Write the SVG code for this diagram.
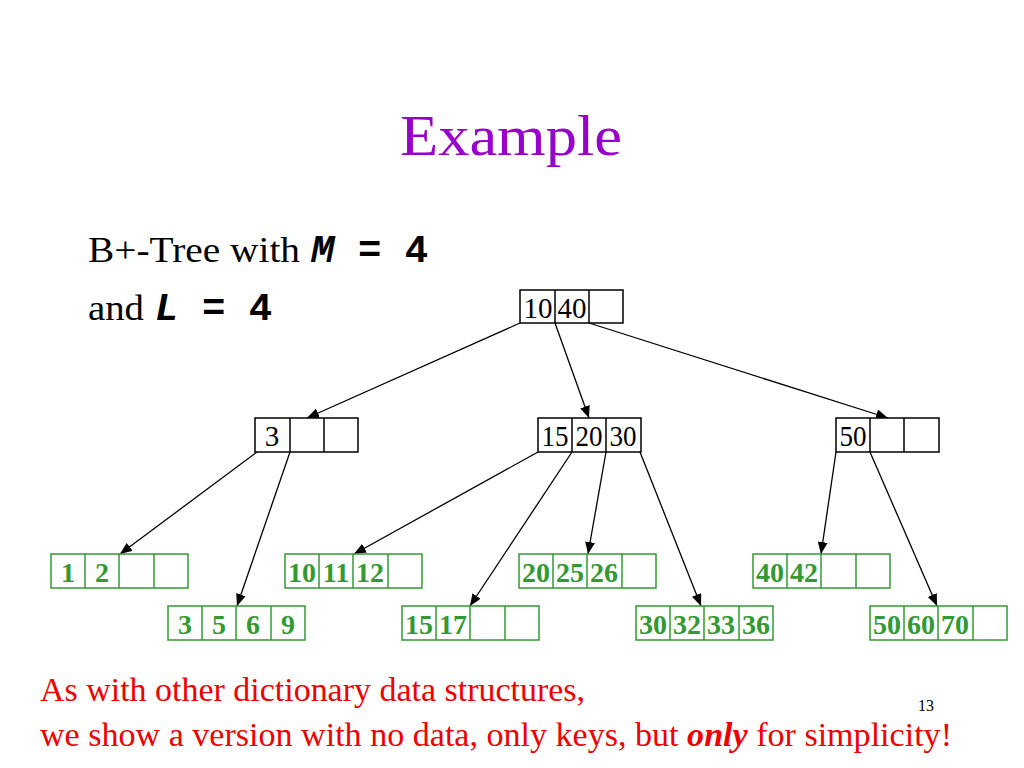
<svg xmlns="http://www.w3.org/2000/svg" width="1024" height="768" viewBox="0 0 1024 768">
<style>
.bg{fill:#fff}
.in rect{fill:#fff;stroke:#000;stroke-width:1.5}
.in line{stroke:#000;stroke-width:1.5}
.in text{font-family:"Liberation Serif",serif;font-size:29px;fill:#000;text-anchor:middle}
.lf rect{fill:#fff;stroke:#339933;stroke-width:1.5}
.lf line{stroke:#339933;stroke-width:1.5}
.lf text{font-family:"Liberation Serif",serif;font-size:28px;font-weight:bold;fill:#339933;text-anchor:middle}
.edge line{stroke:#000;stroke-width:1.3;marker-end:url(#ah)}
.ser{font-family:"Liberation Serif",serif;font-size:36px;fill:#000}
.mono{font-family:"Liberation Mono",monospace;font-weight:bold;font-size:39px;fill:#000}
.red{font-family:"Liberation Serif",serif;font-size:33px;fill:#ee0000}
</style>
<defs>
<marker id="ah" viewBox="0 0 12 10" refX="12" refY="5" markerWidth="12" markerHeight="10" markerUnits="userSpaceOnUse" orient="auto">
<path d="M0,0 L12,5 L0,10 z" fill="#000"/>
</marker>
</defs>
<rect class="bg" width="1024" height="768"/>
<text x="400" y="155" font-family="Liberation Serif,serif" font-size="58" fill="#9900CC" textLength="222" lengthAdjust="spacingAndGlyphs">Example</text>
<text class="ser" x="88" y="262" textLength="212" lengthAdjust="spacingAndGlyphs">B+-Tree with</text>
<text class="mono" x="311" y="262" font-style="italic">M</text>
<text class="mono" x="358" y="262" xml:space="preserve">= 4</text>
<text class="ser" x="88" y="320" textLength="56" lengthAdjust="spacingAndGlyphs">and</text>
<text class="mono" x="155" y="320" font-style="italic">L</text>
<text class="mono" x="202" y="320" xml:space="preserve">= 4</text>

<g id="edges" class="edge">
<line x1="520" y1="323" x2="307" y2="418"/>
<line x1="555" y1="323" x2="589" y2="418"/>
<line x1="589" y1="323" x2="888" y2="418"/>
<line x1="257" y1="452" x2="120" y2="554"/>
<line x1="290" y1="452" x2="237" y2="606"/>
<line x1="538" y1="452" x2="354" y2="554"/>
<line x1="572" y1="452" x2="470" y2="606"/>
<line x1="606" y1="452" x2="588" y2="554"/>
<line x1="640" y1="452" x2="701" y2="606"/>
<line x1="836" y1="452" x2="821" y2="554"/>
<line x1="870" y1="452" x2="937" y2="606"/>
</g>

<g id="root" class="in">
<rect x="520" y="290" width="103" height="33"/>
<line x1="555" y1="290" x2="555" y2="323"/><line x1="589" y1="290" x2="589" y2="323"/>
<text x="538" y="318" font-size="27" textLength="29" lengthAdjust="spacingAndGlyphs">10</text><text x="572" y="318" font-size="27" textLength="29" lengthAdjust="spacingAndGlyphs">40</text>
</g>
<g id="n3" class="in">
<rect x="255" y="418" width="103" height="34"/>
<line x1="290" y1="418" x2="290" y2="452"/><line x1="324" y1="418" x2="324" y2="452"/>
<text x="272" y="446">3</text>
</g>
<g id="n152030" class="in">
<rect x="538" y="418" width="103" height="34"/>
<line x1="572" y1="418" x2="572" y2="452"/><line x1="606" y1="418" x2="606" y2="452"/>
<text x="555" y="446" textLength="27" lengthAdjust="spacingAndGlyphs">15</text><text x="589" y="446" textLength="27" lengthAdjust="spacingAndGlyphs">20</text><text x="623" y="446" textLength="27" lengthAdjust="spacingAndGlyphs">30</text>
</g>
<g id="n50" class="in">
<rect x="836" y="418" width="103" height="34"/>
<line x1="870" y1="418" x2="870" y2="452"/><line x1="904" y1="418" x2="904" y2="452"/>
<text x="853" y="446" textLength="27" lengthAdjust="spacingAndGlyphs">50</text>
</g>

<g id="leaf1" class="lf" transform="translate(51,554)">
<rect width="137" height="34"/><line x1="34" y1="0" x2="34" y2="34"/><line x1="68" y1="0" x2="68" y2="34"/><line x1="103" y1="0" x2="103" y2="34"/>
<text x="17" y="28">1</text><text x="51" y="28">2</text>
</g>
<g id="leaf2" class="lf" transform="translate(168,606)">
<rect width="137" height="34"/><line x1="34" y1="0" x2="34" y2="34"/><line x1="68" y1="0" x2="68" y2="34"/><line x1="103" y1="0" x2="103" y2="34"/>
<text x="17" y="28">3</text><text x="51" y="28">5</text><text x="85" y="28">6</text><text x="120" y="28">9</text>
</g>
<g id="leaf3" class="lf" transform="translate(285,554)">
<rect width="137" height="34"/><line x1="34" y1="0" x2="34" y2="34"/><line x1="68" y1="0" x2="68" y2="34"/><line x1="103" y1="0" x2="103" y2="34"/>
<text x="17" y="28">10</text><text x="51" y="28">11</text><text x="85" y="28">12</text>
</g>
<g id="leaf4" class="lf" transform="translate(402,606)">
<rect width="137" height="34"/><line x1="34" y1="0" x2="34" y2="34"/><line x1="68" y1="0" x2="68" y2="34"/><line x1="103" y1="0" x2="103" y2="34"/>
<text x="17" y="28">15</text><text x="51" y="28">17</text>
</g>
<g id="leaf5" class="lf" transform="translate(519,554)">
<rect width="137" height="34"/><line x1="34" y1="0" x2="34" y2="34"/><line x1="68" y1="0" x2="68" y2="34"/><line x1="103" y1="0" x2="103" y2="34"/>
<text x="17" y="28">20</text><text x="51" y="28">25</text><text x="85" y="28">26</text>
</g>
<g id="leaf6" class="lf" transform="translate(636,606)">
<rect width="137" height="34"/><line x1="34" y1="0" x2="34" y2="34"/><line x1="68" y1="0" x2="68" y2="34"/><line x1="103" y1="0" x2="103" y2="34"/>
<text x="17" y="28">30</text><text x="51" y="28">32</text><text x="85" y="28">33</text><text x="120" y="28">36</text>
</g>
<g id="leaf7" class="lf" transform="translate(753,554)">
<rect width="137" height="34"/><line x1="34" y1="0" x2="34" y2="34"/><line x1="68" y1="0" x2="68" y2="34"/><line x1="103" y1="0" x2="103" y2="34"/>
<text x="17" y="28">40</text><text x="51" y="28">42</text>
</g>
<g id="leaf8" class="lf" transform="translate(870,606)">
<rect width="137" height="34"/><line x1="34" y1="0" x2="34" y2="34"/><line x1="68" y1="0" x2="68" y2="34"/><line x1="103" y1="0" x2="103" y2="34"/>
<text x="17" y="28">50</text><text x="51" y="28">60</text><text x="85" y="28">70</text>
</g>

<text class="red" x="40" y="701" textLength="545" lengthAdjust="spacingAndGlyphs">As with other dictionary data structures,</text>
<text class="red" x="40" y="746" textLength="912" lengthAdjust="spacingAndGlyphs">we show a version with no data, only keys, but <tspan font-weight="bold" font-style="italic">only</tspan> for simplicity!</text>
<text x="926" y="711" font-family="Liberation Serif,serif" font-size="16" fill="#000" text-anchor="middle">13</text>
</svg>
